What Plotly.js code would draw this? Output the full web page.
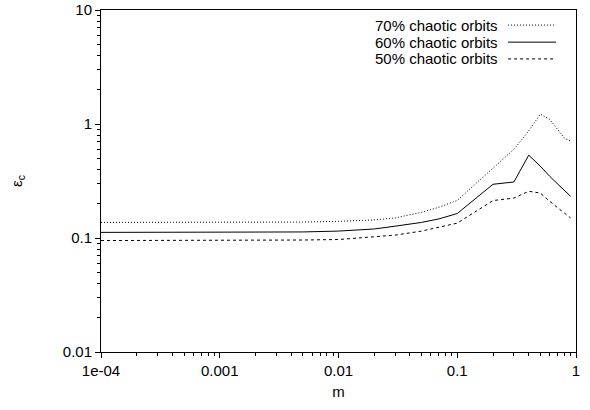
<!DOCTYPE html>
<html>
<head>
<meta charset="utf-8">
<script src="https://cdn.plot.ly/plotly-3.0.1.min.js"></script>
<style>html,body{margin:0;padding:0;background:#fff;}#chart{width:590px;height:410px;}</style>
</head>
<body>
<div id="chart"></div>
<script>
var mValues = [0.0001, 0.001, 0.005, 0.01, 0.02, 0.03, 0.05, 0.07, 0.1, 0.2, 0.3, 0.4, 0.5, 0.6, 0.7, 0.8, 0.9];
var eps70 = [0.137, 0.137, 0.138, 0.140, 0.144, 0.150, 0.168, 0.186, 0.214, 0.41, 0.60, 0.87, 1.22, 1.10, 0.90, 0.75, 0.71];
var eps60 = [0.112, 0.112, 0.113, 0.115, 0.120, 0.127, 0.137, 0.147, 0.164, 0.296, 0.31, 0.533, 0.427, 0.348, 0.296, 0.262, 0.232];
var eps50 = [0.095, 0.095, 0.096, 0.097, 0.102, 0.106, 0.115, 0.124, 0.135, 0.213, 0.224, 0.257, 0.248, 0.21, 0.183, 0.165, 0.15];
var seriesNames = ["70% chaotic orbits", "60% chaotic orbits", "50% chaotic orbits"];
var xTickVals = [0.0001, 0.001, 0.01, 0.1, 1];
var xTickText = ["1e-04", "0.001", "0.01", "0.1", "1"];
var yTickVals = [0.01, 0.1, 1, 10];
var yTickText = ["0.01", "0.1", "1", "10"];

var dashes = ["1px,2px", "solid", "3px,3px"];
var seriesData = [eps70, eps60, eps50];
var font = {family: "'Liberation Sans', Arial, sans-serif", size: 15, color: "#000"};

var traces = seriesData.map(function (ys, i) {
  return {
    x: mValues, y: ys, type: "scatter", mode: "lines", name: seriesNames[i],
    line: {color: "#000", width: 1, dash: dashes[i]}, showlegend: false
  };
});

var annotations = [], shapes = [];
var rowY = [0.956, 0.906, 0.857];
seriesNames.forEach(function (n, i) {
  annotations.push({xref: "paper", yref: "paper", x: 0.84, y: rowY[i], xanchor: "right", yanchor: "middle",
    text: n, showarrow: false, font: font});
  shapes.push({type: "line", xref: "paper", yref: "paper", x0: 0.857, x1: 0.958, y0: rowY[i], y1: rowY[i],
    line: {color: "#000", width: 1, dash: dashes[i]}});
});

var axisCommon = {
  type: "log", showgrid: false, zeroline: false, showline: true, linecolor: "#000", linewidth: 1,
  mirror: true, ticks: "outside", ticklen: 5, tickcolor: "#000", tickfont: font,
  minor: {ticks: "outside", ticklen: 3, tickcolor: "#000", dtick: "D1", showgrid: false}
};

var layout = {
  width: 590, height: 410,
  margin: {l: 101, r: 14, t: 10, b: 58},
  paper_bgcolor: "#fff", plot_bgcolor: "#fff",
  font: font,
  xaxis: Object.assign({}, axisCommon, {
    range: [-4, 0], tickvals: xTickVals, ticktext: xTickText,
    title: {text: "m", font: font, standoff: 8}
  }),
  yaxis: Object.assign({}, axisCommon, {
    range: [-2, 1], tickvals: yTickVals, ticktext: yTickText,
    title: {text: "ε<sub>c</sub>", font: font, standoff: 36}
  }),
  annotations: annotations,
  shapes: shapes
};

Plotly.newPlot("chart", traces, layout, {staticPlot: true, displayModeBar: false});
</script>
</body>
</html>
